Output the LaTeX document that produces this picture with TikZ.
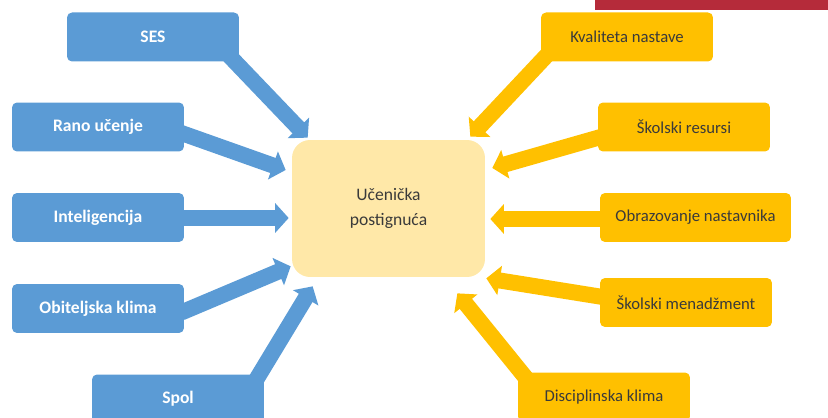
\documentclass[tikz,border=0pt]{standalone}
\usepackage{fontspec}
\setmainfont{Carlito}
\usetikzlibrary{calc,arrows.meta}
\definecolor{plava}{HTML}{5B9BD5}
\definecolor{zuta}{HTML}{FFC000}
\definecolor{svijetla}{HTML}{FFE8A8}
\definecolor{crvena}{HTML}{B52B3A}
\definecolor{tekst}{HTML}{3A3A3A}

\begin{document}
\begin{tikzpicture}[x=0.02cm,y=-0.02cm,
        faktor/.style={rounded corners=0.1cm,minimum width=3.44cm,minimum height=0.98cm,inner sep=0pt},
        lijevi/.style={faktor,fill=plava,text=white,font=\fontsize{10}{12}\selectfont\bfseries},
        desni/.style={faktor,fill=zuta,text=tekst,font=\fontsize{9.5}{11}\selectfont},
        plavastr/.style={plava,line width=0.32cm,-{Triangle[width=0.58cm,length=0.27cm]}},
        zutastr/.style={plavastr,zuta}]
        \useasboundingbox (0,0) rectangle (828,418);
        \clip (0,0) rectangle (828,418);
        \fill[crvena] (595,0) rectangle (828,10);

        \node[rounded corners=0.36cm,fill=svijetla,minimum width=3.86cm,minimum height=2.74cm,align=center,text=tekst,font=\fontsize{10}{14}\selectfont] (cilj) at (388.5,208.5) {Učenička\\postignuća};

        \node[lijevi] (ses) at (153,37) {SES};
        \node[lijevi] (rano) at (98,127) {Rano učenje};
        \node[lijevi] (intel) at (98,217.5) {Inteligencija};
        \node[lijevi] (obitelj) at (98,308.5) {Obiteljska klima};
        \node[lijevi] (spol) at (178,399) {Spol};

        \node[desni] (kvaliteta) at (627,37) {Kvaliteta nastave};
        \node[desni] (resursi) at (684,127) {Školski resursi};
        \node[desni,minimum width=3.82cm] (obrazovanje) at (695.5,217.5) {Obrazovanje nastavnika};
        \node[desni] (menadzment) at (686,302.5) {Školski menadžment};
        \node[desni] (disciplina) at (604,397) {Disciplinska klima};

        \draw[plavastr] ($(ses.south east)+(-10,-6)$) -- ($(cilj.north west)+(16,-2)$);
        \draw[plavastr] ($(rano.east)+(-3,6)$) -- ($(cilj.west)+(-6,-38.5)$);
        \draw[plavastr] ($(intel.east)+(-3,0.5)$) -- ($(cilj.west)+(-3,9.5)$);
        \draw[plavastr] ($(obitelj.east)+(-3,4)$) -- ($(cilj.south west)+(-1,-11)$);
        \draw[plavastr] ($(spol.north east)+(-9,7)$) -- ($(cilj.south west)+(21,9)$);

        \draw[zutastr] ($(kvaliteta.south west)+(7,-7.5)$) -- ($(cilj.north east)+(-15,-3)$);
        \draw[zutastr] ($(resursi.west)+(3,10)$) -- ($(cilj.east)+(7,-40.5)$);
        \draw[zutastr] ($(obrazovanje.west)+(3,1.5)$) -- ($(cilj.east)+(5,10.5)$);
        \draw[zutastr] ($(menadzment.west)+(3,-5.5)$) -- ($(cilj.south east)+(1,1)$);
        \draw[zutastr] ($(disciplina.north west)+(10,8)$) -- ($(cilj.south east)+(-28,16)$);
\end{tikzpicture}
\end{document}
